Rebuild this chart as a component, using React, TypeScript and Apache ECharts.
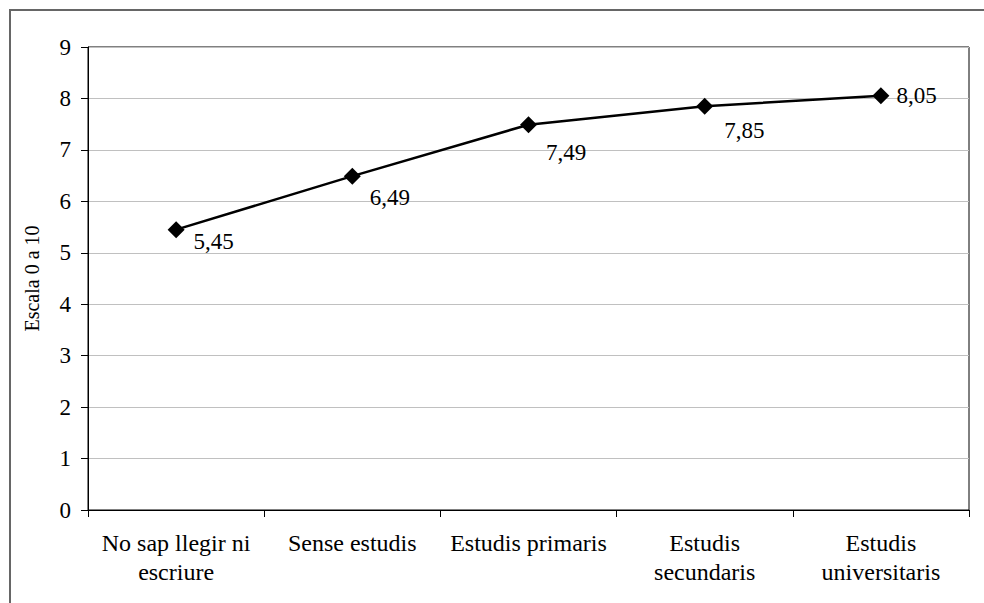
import React, { useEffect, useRef } from "react";
import * as echarts from "echarts";

const categories = [
  "No sap llegir ni\nescriure",
  "Sense estudis",
  "Estudis primaris",
  "Estudis\nsecundaris",
  "Estudis\nuniversitaris",
];
const values = [5.45, 6.49, 7.49, 7.85, 8.05];
const labelOffsets = [
  [0, 12],
  [0, 21],
  [0, 28],
  [2, 24],
  [-2, 0],
];
const yAxisName = "Escala 0 a 10";

const FONT = "Liberation Serif";

export default function App() {
  const ref = useRef<HTMLDivElement>(null);
  useEffect(() => {
    if (!ref.current) return;
    const chart = echarts.init(ref.current, null, { renderer: "svg" });
    chart.setOption({
      animation: false,
      backgroundColor: "#ffffff",
      textStyle: { fontFamily: FONT },
      graphic: [
        {
          type: "rect",
          shape: { x: 10, y: 10, width: 1000, height: 700 },
          style: { fill: "none", stroke: "#666666", lineWidth: 2 },
          silent: true,
        },
      ],
      grid: {
        left: 88,
        top: 47,
        right: 15,
        bottom: 93,
        show: true,
        borderColor: "#000000",
        borderWidth: 1,
        backgroundColor: "transparent",
      },
      xAxis: {
        type: "category",
        data: categories,
        boundaryGap: true,
        axisLine: { show: true, lineStyle: { color: "#000000", width: 1 } },
        axisTick: { show: true, alignWithLabel: false, length: 7, lineStyle: { color: "#000000" } },
        axisLabel: {
          color: "#000000",
          fontFamily: FONT,
          fontSize: 24,
          margin: 18,
          lineHeight: 29,
          interval: 0,
        },
      },
      yAxis: {
        type: "value",
        min: 0,
        max: 9,
        interval: 1,
        name: yAxisName,
        nameLocation: "middle",
        nameGap: 46,
        nameTextStyle: { color: "#000000", fontFamily: FONT, fontSize: 20 },
        axisLine: { show: true, lineStyle: { color: "#000000", width: 1 } },
        axisTick: { show: true, length: 7, lineStyle: { color: "#000000" } },
        axisLabel: { color: "#000000", fontFamily: FONT, fontSize: 23, margin: 17 },
        splitLine: { show: true, lineStyle: { color: "#c0c0c0", width: 1 } },
      },
      series: [
        {
          type: "line",
          data: values.map((v, i) => ({
            value: v,
            label: { offset: labelOffsets[i] },
          })),
          symbol: "diamond",
          symbolSize: 17,
          itemStyle: { color: "#000000" },
          lineStyle: { color: "#000000", width: 2.5 },
          label: {
            show: true,
            position: "right",
            distance: 9,
            color: "#000000",
            fontFamily: FONT,
            fontSize: 23,
            formatter: (p: any) => String(p.value.toFixed(2)).replace(".", ","),
          },
        },
      ],
    });
    return () => chart.dispose();
  }, []);
  return (
    <div
      ref={ref}
      style={{ position: "fixed", left: 0, top: 0, width: 984, height: 603 }}
    />
  );
}
